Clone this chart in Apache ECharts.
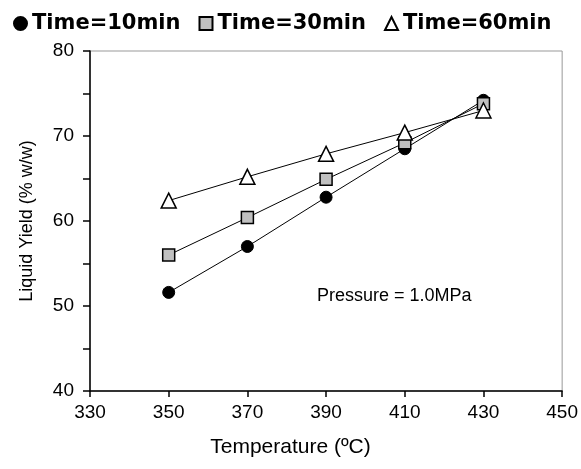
<!DOCTYPE html>
<html><head><meta charset="utf-8">
<script src="https://cdn.jsdelivr.net/npm/echarts@6/dist/echarts.min.js"></script>
<style>html,body{margin:0;padding:0;background:#fff}#c{width:581px;height:469px}</style>
</head><body><div id="c"></div>
<script>
const temperatures = [350, 370, 390, 410, 430];
const time10 = [51.6, 57.0, 62.8, 68.5, 74.2];
const time30 = [56.0, 60.4, 64.9, 69.2, 73.8];
const time60 = [62.4, 65.2, 67.9, 70.4, 73.0];
const seriesNames = ['Time=10min', 'Time=30min', 'Time=60min'];
const xTicks = [330, 350, 370, 390, 410, 430, 450];
const yTicks = [40, 50, 60, 70, 80];
const annotation = 'Pressure = 1.0MPa';
const xTitle = 'Temperature (ºC)';
const yTitle = 'Liquid Yield (% w/w)';

const FONT = 'Arial, "Liberation Sans", sans-serif';
const pair = arr => temperatures.map((t, i) => [t, arr[i]]);

const chart = echarts.init(document.getElementById('c'), null, {renderer: 'canvas'});
chart.setOption({
  animation: false,
  backgroundColor: '#fff',
  grid: {left: 90, right: 18, top: 51, bottom: 78, show: true, borderColor: '#999', borderWidth: 1},
  legend: {
    top: 8, left: 8, itemGap: 18, itemWidth: 13, itemHeight: 13,
    textStyle: {fontFamily: '"DejaVu Sans", Arial, sans-serif', fontWeight: 'bold', fontSize: 21, color: '#000'},
    data: [
      {name: seriesNames[0], icon: 'circle'},
      {name: seriesNames[1], icon: 'rect'},
      {name: seriesNames[2], icon: 'triangle'}
    ]
  },
  xAxis: {
    type: 'value', min: xTicks[0], max: xTicks[xTicks.length - 1], interval: 20,
    axisLine: {show: true, lineStyle: {color: '#000', width: 1.5}},
    axisTick: {show: true, inside: false, length: 6, lineStyle: {color: '#000', width: 1.5}},
    splitLine: {show: false},
    axisLabel: {fontFamily: FONT, fontSize: 19, color: '#000', margin: 12}
  },
  yAxis: {
    type: 'value', min: yTicks[0], max: yTicks[yTicks.length - 1], interval: 5,
    axisLine: {show: true, lineStyle: {color: '#000', width: 1.5}},
    axisTick: {show: true, inside: false, length: 7, lineStyle: {color: '#000', width: 1.5}},
    splitLine: {show: false},
    axisLabel: {fontFamily: FONT, fontSize: 19, color: '#000', margin: 16,
      formatter: v => yTicks.indexOf(v) >= 0 ? String(v) : ''},
    name: yTitle, nameLocation: 'middle', nameGap: 54, nameRotate: 90,
    nameTextStyle: {fontFamily: FONT, fontSize: 18, color: '#000'}
  },
  graphic: [
    {type: 'text', left: 'center', top: 437, style: {text: xTitle, font: '21px ' + FONT, fill: '#000'}},
    {type: 'text', left: 317, top: 287, style: {text: annotation, font: '18px ' + FONT, fill: '#000'}}
  ],
  series: [
    {name: seriesNames[0], type: 'line', data: pair(time10), symbol: 'circle', symbolSize: 12,
      itemStyle: {color: '#000', borderColor: '#000', borderWidth: 1},
      lineStyle: {color: '#000', width: 1}, z: 3},
    {name: seriesNames[1], type: 'line', data: pair(time30), symbol: 'rect', symbolSize: 12,
      itemStyle: {color: '#c0c0c0', borderColor: '#000', borderWidth: 1.5},
      lineStyle: {color: '#000', width: 1}, z: 4},
    {name: seriesNames[2], type: 'line', data: pair(time60), symbol: 'triangle', symbolSize: 15,
      itemStyle: {color: '#fff', borderColor: '#000', borderWidth: 1.5},
      lineStyle: {color: '#000', width: 1}, z: 5}
  ]
});
</script></body></html>
